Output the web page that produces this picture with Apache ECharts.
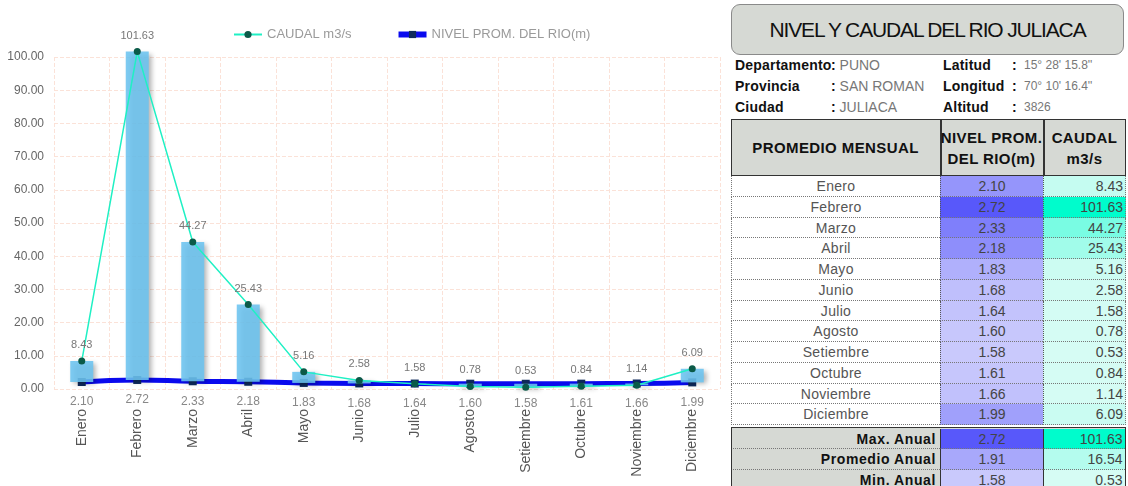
<!DOCTYPE html>
<html><head><meta charset="utf-8">
<script src="https://cdn.jsdelivr.net/npm/echarts@6/dist/echarts.min.js"></script>
<style>
body{margin:0;width:1128px;height:486px;overflow:hidden;background:#fff;font-family:"Liberation Sans",Arial,sans-serif;position:relative;}
#chart{position:absolute;left:0;top:0;width:725px;height:486px;}
#panel{position:absolute;left:731px;top:0;width:397px;height:486px;}
.ttl{position:absolute;left:0;top:4px;width:391px;height:49px;border:1px solid #8a8a8a;border-radius:9px;background:#d6d9d4;text-align:center;line-height:50px;font-size:21px;letter-spacing:-1.15px;color:#111;}
.t{position:absolute;white-space:nowrap;}
.lb{font-weight:bold;font-size:14px;color:#111;letter-spacing:0.2px;}
.vl{font-size:14px;color:#777;}
.vs{font-size:12px;color:#777;}
.c{position:absolute;box-sizing:border-box;white-space:nowrap;font-size:14px;color:#444;overflow:hidden;}
</style>
</head><body>
<div id="chart"></div>
<div id="panel"></div>
<script>
const months = ["Enero","Febrero","Marzo","Abril","Mayo","Junio","Julio","Agosto","Setiembre","Octubre","Noviembre","Diciembre"];
const caudal = [8.43,101.63,44.27,25.43,5.16,2.58,1.58,0.78,0.53,0.84,1.14,6.09];
const nivel = [2.10,2.72,2.33,2.18,1.83,1.68,1.64,1.60,1.58,1.61,1.66,1.99];
const yTicks = [0,10,20,30,40,50,60,70,80,90,100];
const summaryLabels = ["Max. Anual","Promedio Anual","Min. Anual"];
const summaryNivel = [2.72,1.91,1.58];
const summaryCaudal = [101.63,16.54,0.53];

const chart = echarts.init(document.getElementById('chart'));
const barTop = caudal.map((v,i)=>+(v - nivel[i]).toFixed(2));
chart.setOption({
  animation:false,
  textStyle:{fontFamily:'"Liberation Sans", Arial, sans-serif'},
  legend:{top:23,left:228,itemGap:44,itemWidth:28,itemHeight:9,
    textStyle:{color:'#9a9a9a',fontSize:13},
    data:[{name:'CAUDAL m3/s'},{name:'NIVEL PROM. DEL RIO(m)',lineStyle:{width:6,color:'#0a0aee'}}]},
  grid:{left:54,right:5,top:57,bottom:97},
  xAxis:{type:'category',data:months,boundaryGap:true,
    axisLine:{show:false},axisTick:{show:false},
    axisLabel:{rotate:90,margin:20,color:'#555',fontSize:14,interval:0},
    splitLine:{show:true,lineStyle:{color:'#fbe2d8',type:'dashed'}}},
  yAxis:{type:'value',min:yTicks[0],max:yTicks[yTicks.length-1],interval:yTicks[1]-yTicks[0],
    axisLine:{show:false},axisTick:{show:false},
    axisLabel:{color:'#666',fontSize:12,margin:10,formatter:v=>v.toFixed(2)},
    splitLine:{lineStyle:{color:'#fbe2d8',type:'dashed'}}},
  series:[
    {name:'NIVEL PROM. DEL RIO(m)',type:'line',data:nivel,smooth:true,z:1,clip:false,
      lineStyle:{color:'#0a0aee',width:5},itemStyle:{color:'#0f2a5c'},
      symbol:'rect',symbolSize:8,showAllSymbol:true,
      label:{show:true,position:'bottom',distance:10,color:'#888',fontSize:12,formatter:p=>p.value.toFixed(2)}},
    {name:'base',type:'bar',stack:'b',stackStrategy:'all',data:nivel,barWidth:23,z:2,silent:true,
      itemStyle:{color:'rgba(0,0,0,0)'},clip:false},
    {name:'barras',type:'bar',stack:'b',stackStrategy:'all',data:barTop,barWidth:23,z:2,clip:false,
      itemStyle:{color:'rgba(108,196,240,0.88)',shadowColor:'rgba(0,0,0,0.35)',shadowBlur:5,shadowOffsetX:3,shadowOffsetY:2}},
    {name:'CAUDAL m3/s',type:'line',data:caudal,z:3,clip:false,
      lineStyle:{color:'#1ff0c4',width:1.5},itemStyle:{color:'#0b5a48'},
      symbol:'circle',symbolSize:7,showAllSymbol:true,
      label:{show:true,position:'top',distance:7,color:'#777',fontSize:11,formatter:p=>p.value.toFixed(2)}}
  ]
});

// ---- right panel ----
const P = document.getElementById('panel');
function el(cls, css, html){const d=document.createElement('div');d.className=cls;d.style.cssText=css;d.innerHTML=html;P.appendChild(d);return d;}
el('ttl','','NIVEL Y CAUDAL DEL RIO JULIACA');
const info = [
  ['Departamento',': PUNO','Latitud',': ','15° 28\' 15.8\'\''],
  ['Provincia',': SAN ROMAN','Longitud',': ','70° 10\' 16.4\'\''],
  ['Ciudad',': JULIACA','Altitud',': ','3826']
];
info.forEach((r,i)=>{
  const y = 57 + i*21;
  el('t lb','left:4px;top:'+y+'px;',r[0]);
  el('t vl','left:100px;top:'+y+'px;','<b style="color:#111">:</b> '+r[1].slice(2));
  el('t lb','left:212px;top:'+y+'px;',r[2]);
  el('t lb','left:281px;top:'+y+'px;',':');
  el('t vs','left:293px;top:'+(y+1)+'px;',r[4]);
});

function mix(c1,c2,t){return 'rgb('+c1.map((v,k)=>Math.round(v+(c2[k]-v)*t)).join(',')+')';}
const nMin=Math.min(...nivel), nMax=Math.max(...nivel);
const cMin=Math.min(...caudal), cMax=Math.max(...caudal);
const nCol=v=>mix([201,201,252],[88,88,250],(v-nMin)/(nMax-nMin));
const cCol=v=>mix([214,252,244],[0,252,204],(v-cMin)/(cMax-cMin));

const X=[0,209,312,395];
const hTop=119, hH=57;
// header
el('c','left:0;top:'+hTop+'px;width:395px;height:'+hH+'px;background:#d6d9d4;border:1.5px solid #333;','');
el('c','left:'+X[1]+'px;top:'+hTop+'px;width:1.5px;height:'+hH+'px;background:#333;','');
el('c','left:'+X[2]+'px;top:'+hTop+'px;width:1.5px;height:'+hH+'px;background:#333;','');
const hdr=[['PROMEDIO MENSUAL'],['NIVEL PROM.','DEL RIO(m)'],['CAUDAL','m3/s']];
hdr.forEach((h,k)=>{
  el('c','left:'+X[k]+'px;top:'+hTop+'px;width:'+(X[k+1]-X[k])+'px;height:'+hH+'px;display:flex;flex-direction:column;justify-content:center;align-items:center;text-align:center;font-weight:bold;font-size:15px;color:#111;line-height:21px;letter-spacing:0.4px;',h.join('<br>'));
});
// data rows
const rTop=176, rH=20.75;
months.forEach((m,i)=>{
  const y=rTop+i*rH;
  const bb='border-bottom:1px dotted #777;';
  el('c','left:0;top:'+y+'px;width:'+X[1]+'px;height:'+rH+'px;line-height:'+rH+'px;text-align:center;color:#555;letter-spacing:0.3px;border-left:1px dotted #777;'+bb,m);
  el('c','left:'+X[1]+'px;top:'+y+'px;width:'+(X[2]-X[1])+'px;height:'+rH+'px;line-height:'+rH+'px;text-align:center;background:'+nCol(nivel[i])+';border-left:1px dotted #555;'+bb,nivel[i].toFixed(2));
  el('c','left:'+X[2]+'px;top:'+y+'px;width:'+(X[3]-X[2])+'px;height:'+rH+'px;line-height:'+rH+'px;text-align:right;padding-right:2px;background:'+cCol(caudal[i])+';border-left:1px dotted #555;border-right:1px dotted #777;'+bb,caudal[i].toFixed(2));
});
// summary
const sTop=427, sH=20.6;
el('c','left:0;top:'+sTop+'px;width:395px;height:'+(sH*3+3)+'px;background:#d6d9d4;border:1.5px solid #333;','');
summaryLabels.forEach((s,i)=>{
  const y=sTop+1.5+i*sH;
  const bb= i<2?'border-bottom:1px dotted #777;':'';
  el('c','left:1.5px;top:'+y+'px;width:'+(X[1]-1.5)+'px;height:'+sH+'px;line-height:'+sH+'px;text-align:right;padding-right:4px;font-weight:bold;font-size:14px;color:#111;letter-spacing:0.6px;'+bb,s);
  el('c','left:'+X[1]+'px;top:'+y+'px;width:'+(X[2]-X[1])+'px;height:'+sH+'px;line-height:'+sH+'px;text-align:center;background:'+nCol(summaryNivel[i])+';border-left:1.5px solid #333;'+bb,summaryNivel[i].toFixed(2));
  el('c','left:'+X[2]+'px;top:'+y+'px;width:'+(X[3]-X[2]-1.5)+'px;height:'+sH+'px;line-height:'+sH+'px;text-align:right;padding-right:2px;background:'+cCol(summaryCaudal[i])+';border-left:1.5px solid #333;'+bb,summaryCaudal[i].toFixed(2));
});
</script>
</body></html>
